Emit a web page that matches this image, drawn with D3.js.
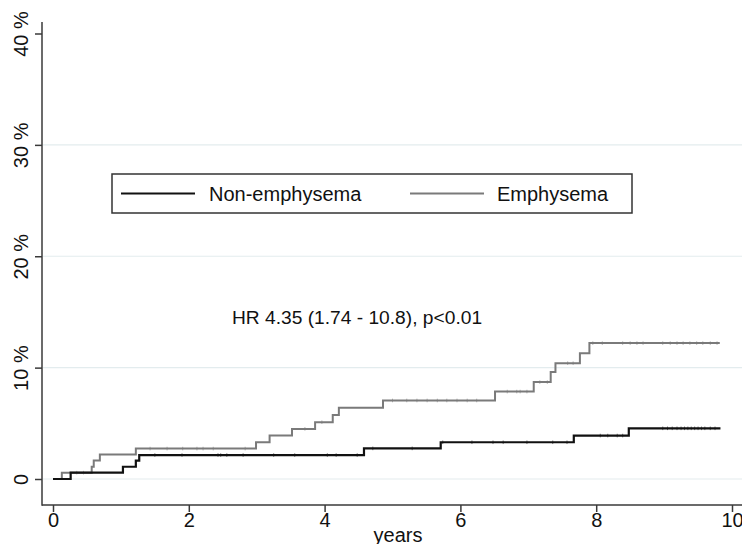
<!DOCTYPE html>
<html>
<head>
<meta charset="utf-8">
<script src="https://cdn.jsdelivr.net/npm/d3@7"></script>
<style>
  body { margin: 0; background: #fff; }
  svg { display: block; font-family: "Liberation Sans", Arial, sans-serif; }
</style>
</head>
<body>
<div id="chart"></div>
<script>
// cumulative incidence (years, %)
var nonEmphysemaSteps = [[0, 0], [0.26, 0.57], [1.03, 1.1], [1.22, 1.65], [1.27, 2.15],
  [4.58, 2.75], [5.71, 3.3], [7.67, 3.9], [8.48, 4.55]];
var nonEmphysemaEnd = 9.83;
var emphysemaSteps = [[0, 0], [0.13, 0.57], [0.57, 1.1], [0.6, 1.65], [0.69, 2.2],
  [1.22, 2.73], [2.99, 3.3], [3.19, 3.9], [3.52, 4.5], [3.86, 5.1], [4.12, 5.75],
  [4.21, 6.4], [4.86, 7.05], [6.51, 7.85], [7.08, 8.7], [7.33, 9.6], [7.4, 10.4],
  [7.76, 11.3], [7.9, 12.2]];
var emphysemaEnd = 9.82;

// censoring marks (years)
var nonEmphysemaCensor = [1.5, 1.9, 2.43, 2.47, 2.56, 2.8, 3.25, 3.56, 4.04, 4.17, 4.48,
  4.71, 5.29, 5.74, 6.17, 6.48, 6.63, 6.98, 7.36, 7.57, 8.06, 8.17, 8.31, 8.39,
  8.98, 9.05, 9.12, 9.19, 9.25, 9.3, 9.35, 9.4, 9.45, 9.5, 9.55, 9.6, 9.68, 9.75];
var emphysemaCensor = [0.35, 0.45, 1.43, 1.68, 1.91, 2.12, 2.21, 2.36, 2.83, 3.71, 3.96,
  5.0, 5.21, 5.36, 5.51, 5.66, 5.8, 5.95, 6.1, 6.24, 6.69, 6.83, 6.88, 6.98, 7.17, 7.28,
  7.58, 7.66, 7.95, 8.09, 8.39, 8.5, 8.6, 8.69, 8.98, 9.09, 9.19, 9.28, 9.38, 9.48,
  9.57, 9.68, 9.78];

var yTicks = [0, 10, 20, 30, 40];
var xTicks = [0, 2, 4, 6, 8, 10];
var gridTicks = [0, 10, 20, 30];
var legendLabels = ["Non-emphysema", "Emphysema"];
var hrText = "HR 4.35 (1.74 - 10.8), p<0.01";

var W = 742, H = 544;
var axisX = 42, axisY = 505;

var svg = d3.select("#chart").append("svg").attr("width", W).attr("height", H);

var x = d3.scaleLinear().domain([0, 10]).range([53, 732]);
var y = d3.scaleLinear().domain([0, 40]).range([479, 33.5]);

// gridlines
svg.append("g").selectAll("line").data(gridTicks).enter().append("line")
  .attr("x1", axisX + 1).attr("x2", W)
  .attr("y1", function(d) { return y(d); }).attr("y2", function(d) { return y(d); })
  .attr("stroke", "#e3ecee").attr("stroke-width", 1.2);

// y axis
var yAxis = svg.append("g").attr("transform", "translate(" + axisX + ",0)")
  .call(d3.axisLeft(y).tickValues(yTicks).tickSize(7).tickFormat(function(d) { return d == 0 ? "0" : d + " %"; }));
yAxis.select(".domain").remove();
yAxis.selectAll(".tick line").attr("stroke", "#3a3a3a").attr("stroke-width", 1.5);
yAxis.selectAll(".tick text")
  .attr("transform", "rotate(-90)")
  .attr("x", 0).attr("y", -14).attr("dy", 0)
  .attr("text-anchor", "middle")
  .attr("font-size", 20).attr("fill", "#111")
  .attr("font-family", "'Liberation Sans', Arial, sans-serif");
svg.append("line").attr("x1", axisX).attr("x2", axisX).attr("y1", 22).attr("y2", axisY + 0.75)
  .attr("stroke", "#3a3a3a").attr("stroke-width", 1.5);

// x axis
var xAxis = svg.append("g").attr("transform", "translate(0," + axisY + ")")
  .call(d3.axisBottom(x).tickValues(xTicks).tickSize(7).tickFormat(d3.format("d")));
xAxis.select(".domain").remove();
xAxis.selectAll(".tick line").attr("stroke", "#3a3a3a").attr("stroke-width", 1.5);
xAxis.selectAll(".tick text")
  .attr("y", 22).attr("dy", 0)
  .attr("font-size", 20).attr("fill", "#111")
  .attr("font-family", "'Liberation Sans', Arial, sans-serif");
svg.append("line").attr("x1", axisX).attr("x2", W).attr("y1", axisY).attr("y2", axisY)
  .attr("stroke", "#3a3a3a").attr("stroke-width", 1.5);

svg.append("text").attr("x", 398).attr("y", 542).attr("text-anchor", "middle")
  .attr("font-size", 20).attr("fill", "#111").text("years");

// curves
var line = d3.line()
  .x(function(d) { return x(d[0]); })
  .y(function(d) { return y(d[1]); })
  .curve(d3.curveStepAfter);

function drawCurve(steps, end, censor, color, width) {
  var pts = steps.concat([[end, steps[steps.length - 1][1]]]);
  svg.append("path").datum(pts)
    .attr("d", line)
    .attr("fill", "none")
    .attr("stroke", color)
    .attr("stroke-width", width);
  // value of the step curve at time t
  var at = function(t) {
    var v = 0;
    steps.forEach(function(s) { if (s[0] <= t) v = s[1]; });
    return v;
  };
  svg.append("g").selectAll("line").data(censor).enter().append("line")
    .attr("x1", function(d) { return x(d); }).attr("x2", function(d) { return x(d); })
    .attr("y1", function(d) { return y(at(d)) - 1.8; })
    .attr("y2", function(d) { return y(at(d)) + 1.8; })
    .attr("stroke", color).attr("stroke-width", 0.8).attr("opacity", 0.7);
}

drawCurve(emphysemaSteps, emphysemaEnd, emphysemaCensor, "#7a7a7a", 2);
drawCurve(nonEmphysemaSteps, nonEmphysemaEnd, nonEmphysemaCensor, "#111", 2.2);

// legend
var lg = svg.append("g");
lg.append("rect").attr("x", 112).attr("y", 174).attr("width", 520).attr("height", 39)
  .attr("fill", "#fff").attr("stroke", "#333").attr("stroke-width", 1.5);
var legendColors = ["#111", "#7a7a7a"];
var legendLineX = [121, 410];
var legendTextX = [209, 497];
legendLabels.forEach(function(lab, i) {
  lg.append("line").attr("x1", legendLineX[i]).attr("x2", legendLineX[i] + 74)
    .attr("y1", 193.5).attr("y2", 193.5)
    .attr("stroke", legendColors[i]).attr("stroke-width", 2);
  lg.append("text").attr("x", legendTextX[i]).attr("y", 200.5)
    .attr("font-size", 20).attr("fill", "#111").text(lab);
});

// hazard ratio annotation
svg.append("text").attr("x", 357).attr("y", 324).attr("text-anchor", "middle")
  .attr("font-size", 19.2).attr("fill", "#111").text(hrText);
</script>
</body>
</html>
